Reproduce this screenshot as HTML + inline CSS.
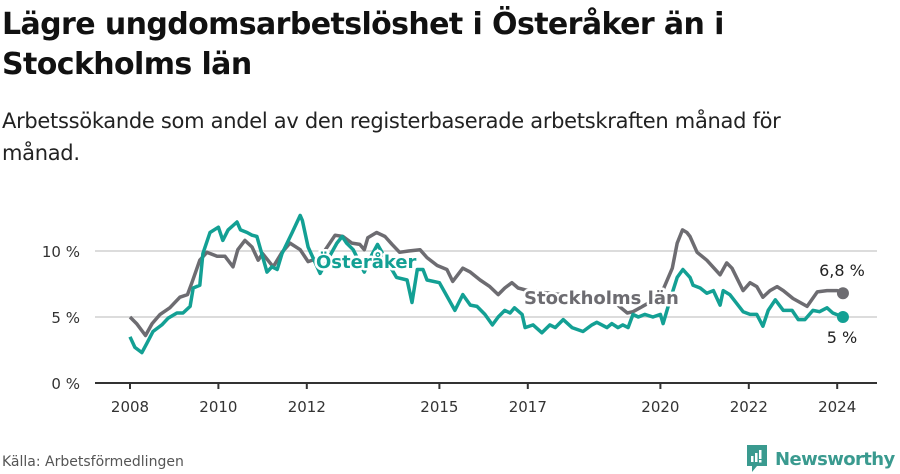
<!DOCTYPE html>
<html><head><meta charset="utf-8">
<style>
body{margin:0;width:900px;height:474px;background:#fff;font-family:"Liberation Sans","DejaVu Sans",sans-serif;overflow:hidden;position:relative}
h1{position:absolute;left:2px;top:5px;margin:0;font-family:"DejaVu Sans",sans-serif;font-size:30px;line-height:40px;font-weight:bold;color:#111;letter-spacing:-0.6px}
.sub{position:absolute;left:2px;top:105px;margin:0;font-family:"DejaVu Sans",sans-serif;font-size:21px;line-height:32px;color:#222;letter-spacing:-0.3px}
.src{position:absolute;left:2px;top:454px;font-family:"DejaVu Sans",sans-serif;font-size:14px;color:#555}
.logo{position:absolute;left:745px;top:444px;display:flex;align-items:center}
.logo span{font-family:"DejaVu Sans",sans-serif;font-weight:bold;font-size:18px;color:#3a9a8f;margin-left:6px;letter-spacing:-0.6px}
svg{position:absolute;left:0;top:0}
</style></head><body>
<h1>Lägre ungdomsarbetslöshet i Österåker än i<br>Stockholms län</h1>
<p class="sub">Arbetssökande som andel av den registerbaserade arbetskraften månad för<br>månad.</p>
<svg id="chart" width="900" height="474"></svg>
<div class="src">Källa: Arbetsförmedlingen</div>
<div class="logo">
<svg width="24" height="30" viewBox="0 0 24 30" style="position:static"><path d="M2 1h20v21H12l-5 6v-6H2z" fill="#3a9a8f"/><rect x="6" y="12" width="2.5" height="6" fill="#fff"/><rect x="10" y="9" width="2.5" height="9" fill="#fff"/><rect x="14" y="6" width="2.5" height="9" fill="#fff"/><rect x="14" y="16" width="2.5" height="2.5" fill="#fff"/></svg>
<span>Newsworthy</span></div>
<script>
const stockDates=[2008.0,2008.15,2008.35,2008.5,2008.68,2008.9,2009.13,2009.3,2009.4,2009.58,2009.74,2009.97,2010.15,2010.33,2010.44,2010.6,2010.76,2010.9,2011.0,2011.24,2011.44,2011.62,2011.85,2012.03,2012.3,2012.64,2012.82,2013.02,2013.2,2013.3,2013.38,2013.58,2013.77,2013.93,2014.1,2014.3,2014.56,2014.72,2014.95,2015.17,2015.3,2015.53,2015.7,2015.92,2016.14,2016.33,2016.48,2016.64,2016.78,2017.0,2017.5,2018.0,2018.5,2019.0,2019.25,2019.38,2019.7,2020.0,2020.27,2020.38,2020.5,2020.6,2020.67,2020.83,2021.05,2021.35,2021.5,2021.62,2021.87,2022.03,2022.18,2022.32,2022.48,2022.64,2022.78,2023.0,2023.32,2023.55,2023.77,2024.0,2024.13];
const stockValues=[5.0,4.5,3.6,4.5,5.2,5.7,6.5,6.7,7.6,9.3,9.9,9.6,9.6,8.8,10.1,10.8,10.3,9.3,9.8,8.8,9.9,10.6,10.1,9.2,9.5,11.2,11.1,10.6,10.5,10.1,11.0,11.4,11.1,10.5,9.9,10.0,10.1,9.5,8.9,8.6,7.7,8.7,8.4,7.8,7.3,6.7,7.2,7.6,7.2,7.0,6.8,6.6,6.3,6.0,5.3,5.4,6.0,6.6,8.7,10.6,11.6,11.4,11.1,9.9,9.3,8.2,9.1,8.7,7.0,7.6,7.3,6.5,7.0,7.3,7.0,6.4,5.8,6.9,7.0,7.0,6.8];
const ostDates=[2008.0,2008.11,2008.27,2008.38,2008.52,2008.72,2008.86,2009.06,2009.2,2009.36,2009.43,2009.58,2009.65,2009.81,2010.0,2010.1,2010.22,2010.42,2010.5,2010.65,2010.76,2010.87,2011.1,2011.21,2011.33,2011.44,2011.67,2011.85,2011.9,2012.03,2012.3,2012.68,2012.8,2012.9,2013.05,2013.3,2013.47,2013.6,2013.8,2014.03,2014.27,2014.38,2014.5,2014.63,2014.72,2015.0,2015.35,2015.53,2015.7,2015.85,2016.03,2016.2,2016.33,2016.48,2016.6,2016.7,2016.87,2016.94,2017.12,2017.32,2017.5,2017.62,2017.8,2018.0,2018.25,2018.45,2018.56,2018.79,2018.9,2019.04,2019.15,2019.27,2019.38,2019.5,2019.65,2019.83,2020.0,2020.06,2020.22,2020.38,2020.51,2020.67,2020.74,2020.9,2021.05,2021.2,2021.35,2021.42,2021.57,2021.87,2022.03,2022.18,2022.32,2022.44,2022.6,2022.78,2022.98,2023.12,2023.27,2023.45,2023.6,2023.77,2023.9,2024.13];
const ostValues=[3.5,2.7,2.3,3.0,3.9,4.4,4.9,5.3,5.3,5.8,7.2,7.4,9.8,11.4,11.8,10.8,11.6,12.2,11.6,11.4,11.2,11.1,8.4,8.8,8.6,9.8,11.4,12.7,12.3,10.3,8.3,10.6,11.1,10.6,10.1,8.4,9.7,10.5,9.3,8.0,7.8,6.1,8.6,8.6,7.8,7.6,5.5,6.7,5.9,5.8,5.2,4.4,5.0,5.5,5.3,5.7,5.2,4.2,4.4,3.8,4.4,4.2,4.8,4.2,3.9,4.4,4.6,4.2,4.5,4.2,4.4,4.2,5.2,5.0,5.2,5.0,5.2,4.5,6.3,8.0,8.6,8.0,7.4,7.2,6.8,7.0,5.9,7.0,6.7,5.4,5.2,5.2,4.3,5.5,6.3,5.5,5.5,4.8,4.8,5.5,5.4,5.7,5.3,5.0];
const yTicks=[0,5,10];
const yTickLabels=["0 %","5 %","10 %"];
const xTicks=[2008,2010,2012,2015,2017,2020,2022,2024];
const NS="http://www.w3.org/2000/svg";
const svg=document.getElementById('chart');
const xS=v=>130+(v-2008)*44.2;
const yS=v=>383-v*13.2;
function mk(t,a){const e=document.createElementNS(NS,t);for(const k in a)e.setAttribute(k,a[k]);svg.appendChild(e);return e;}
yTicks.forEach((t,i)=>{
 if(t>0){const g=mk('line',{x1:95,x2:877,y1:yS(t),y2:yS(t),stroke:'#dcdcdc','stroke-width':2});
 
 }
 const l=mk('text',{x:80,y:yS(t)+6,'text-anchor':'end','font-size':15,fill:'#333','font-family':'DejaVu Sans, sans-serif'});
 l.textContent=yTickLabels[i];
 
 
});
const ax=mk('line',{x1:95,x2:877,y1:383,y2:383,stroke:'#333','stroke-width':2});


xTicks.forEach(t=>{
 const tk=mk('line',{x1:xS(t),x2:xS(t),y1:383,y2:389,stroke:'#333','stroke-width':2});
 
 
 const l=mk('text',{x:xS(t),y:412,'text-anchor':'middle','font-size':15,fill:'#333','font-family':'DejaVu Sans, sans-serif'});
 l.textContent=t;
 
 
});
function line(d,v,c,name){
 const p=mk('path',{d:d.map((x,i)=>(i?'L':'M')+xS(x).toFixed(1)+','+yS(v[i]).toFixed(1)).join(''),fill:'none',stroke:c,'stroke-width':3.5,'stroke-linejoin':'round'});
 
 
 const n=d.length-1;
 const dot=mk('circle',{cx:xS(d[n]),cy:yS(v[n]),r:6,fill:c});
 
 
}
line(stockDates,stockValues,'#6d6c71','stockholm-line');
line(ostDates,ostValues,'#13a094','osteraker-line');
function lbl(x,y,txt,c,name,anchor,bold){
 const t=mk('text',{x:x,y:y,'font-size':bold?18:16,'font-weight':bold?'bold':'normal',fill:c,'text-anchor':anchor||'start','font-family':'DejaVu Sans, sans-serif',stroke:'#fff','stroke-width':bold?5:4,'paint-order':'stroke','stroke-linejoin':'round'});
 t.textContent=txt;
 
 
}
lbl(316,268,'Österåker','#13a094','osteraker-label','start',true);
lbl(524,304,'Stockholms län','#6d6c71','stockholm-label','start',true);
lbl(842,276,'6,8 %','#222','stockholm-end-value','middle',false);
lbl(842,343,'5 %','#222','osteraker-end-value','middle',false);
</script>
</body></html>
